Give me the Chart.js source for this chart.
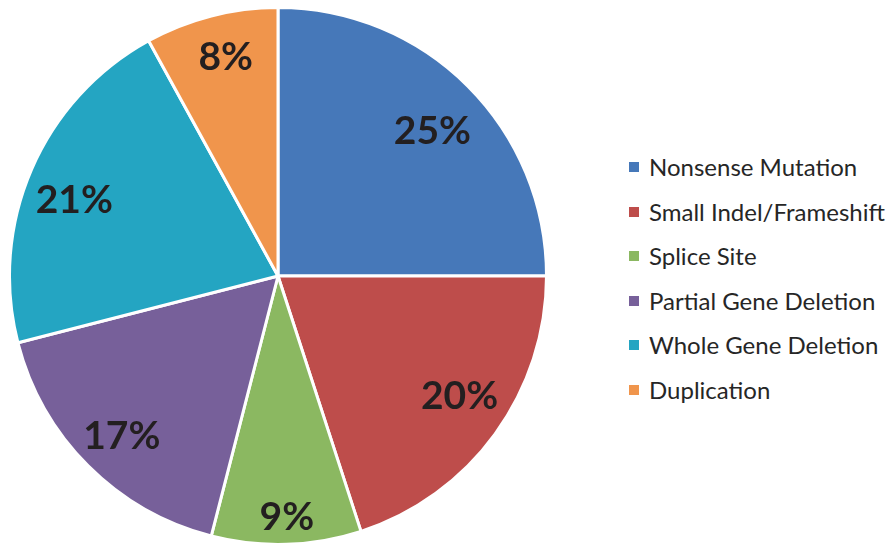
<!DOCTYPE html>
<html>
<head>
<meta charset="utf-8">
<script src="https://cdn.jsdelivr.net/npm/chart.js@4.4.0/dist/chart.umd.min.js"></script>
<style>
    html, body { margin: 0; padding: 0; background: #fff; }
    #wrap { position: relative; width: 893px; height: 543px; overflow: hidden; }
    #pie { position: absolute; left: 8px; top: 6px; }
    #legend { position: absolute; left: 629px; top: 150px; font-family: Lato, "Open Sans", sans-serif; font-size: 24px; color: #262626; }
    .item { position: relative; height: 44.6px; line-height: 34px; padding-left: 20px; white-space: nowrap; }
    .item span { position: absolute; left: 0; top: 12px; width: 10px; height: 10px; }
</style>
</head>
<body>
<div id="wrap">
    <canvas id="pie" width="540" height="540"></canvas>
    <div id="legend"></div>
</div>
<script>
// Tipos de variante y su porcentaje
const categories = ['Nonsense Mutation', 'Small Indel/Frameshift', 'Splice Site', 'Partial Gene Deletion', 'Whole Gene Deletion', 'Duplication'];
const percents = [25, 20, 9, 17, 21, 8];
const colors = ['#4678B9', '#BE4D4B', '#8BB861', '#77609A', '#24A5C2', '#F0954C'];

// Colocación de cada etiqueta: fracción del radio y giro en grados
const labelRadius = [0.79, 0.81, 0.895, 0.83, 0.81, 0.84];
const labelTurn = [1.7, -2.6, -0.3, -0.5, -2.9, 1.0];

// Etiquetas de porcentaje dentro de cada sector
const sliceLabels = {
    id: 'sliceLabels',
    afterDatasetsDraw(chart) {
        const ctx = chart.ctx;
        const meta = chart.getDatasetMeta(0);
        ctx.save();
        ctx.font = 'bold 39px Lato, "Open Sans", sans-serif';
        ctx.fillStyle = '#231F20';
        ctx.textAlign = 'center';
        ctx.textBaseline = 'middle';
        meta.data.forEach((arc, i) => {
            const mid = (arc.startAngle + arc.endAngle) / 2 + labelTurn[i] * Math.PI / 180;
            const r = arc.outerRadius * labelRadius[i];
            ctx.fillText(percents[i] + '%', arc.x + Math.cos(mid) * r, arc.y + Math.sin(mid) * r + 1);
        });
        ctx.restore();
    }
};

new Chart(document.getElementById('pie'), {
    type: 'pie',
    data: {
        labels: categories,
        datasets: [{
            data: percents,
            backgroundColor: colors,
            borderColor: '#fff',
            borderWidth: 3
        }]
    },
    options: {
        responsive: false,
        animation: false,
        layout: { padding: 0 },
        plugins: {
            legend: { display: false },
            tooltip: { enabled: false }
        }
    },
    plugins: [sliceLabels]
});

// Leyenda a la derecha
const legend = document.getElementById('legend');
categories.forEach((name, i) => {
    const div = document.createElement('div');
    div.className = 'item';
    div.innerHTML = '<span style="background:' + colors[i] + '"></span>' + name;
    legend.appendChild(div);
});
</script>
</body>
</html>
